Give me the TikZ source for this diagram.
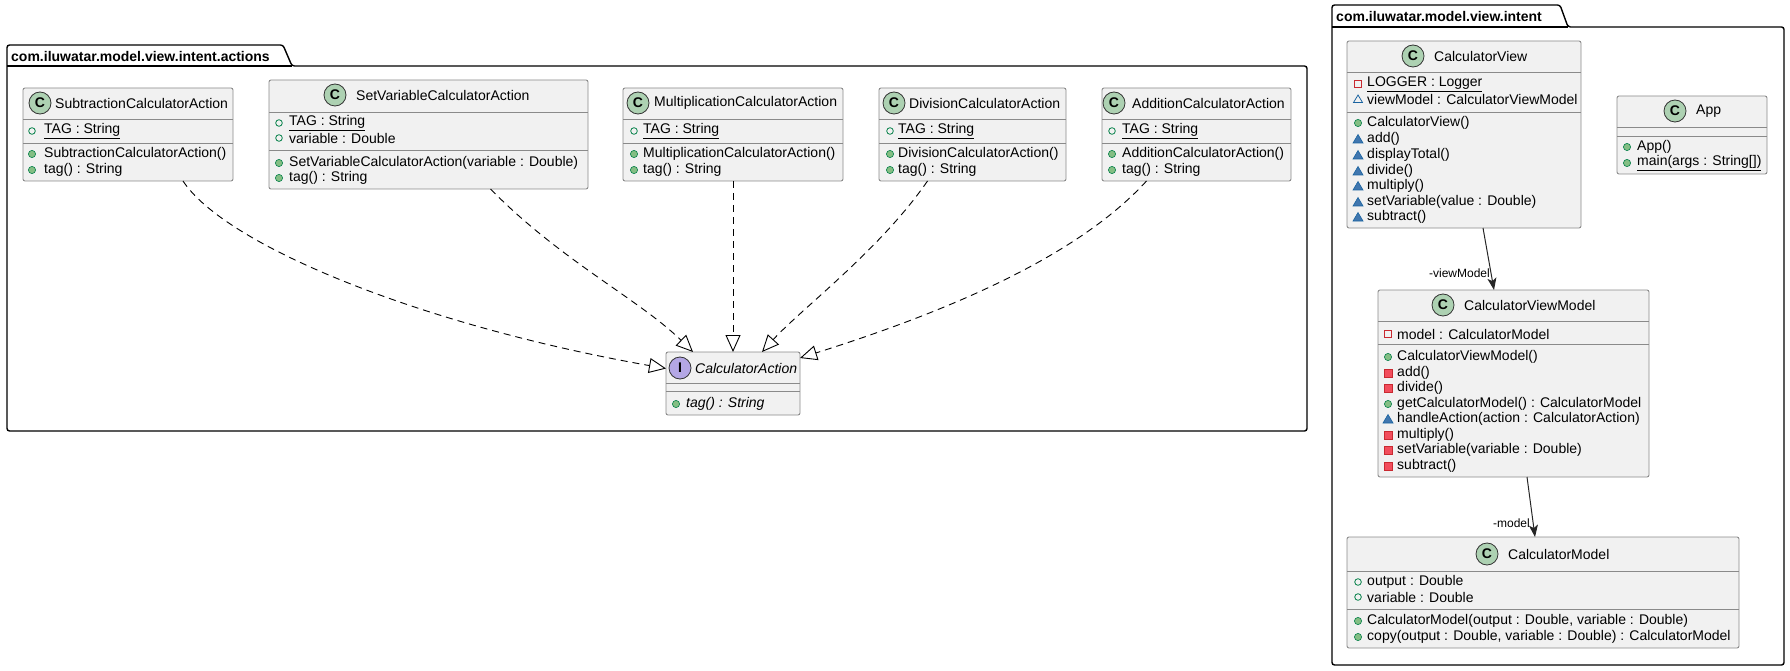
\documentclass[tikz,border=0pt]{standalone}
\usepackage{fontspec}
\setmainfont{Liberation Sans}
\usetikzlibrary{arrows.meta}

\definecolor{boxfill}{HTML}{F1F1F1}
\definecolor{boxline}{HTML}{8A8A8A}
\definecolor{clsgreen}{HTML}{ADD1B2}
\definecolor{ifcviolet}{HTML}{B4A7E5}
\definecolor{publine}{HTML}{038048}
\definecolor{pubfill}{HTML}{84BE84}
\definecolor{privline}{HTML}{C82930}
\definecolor{privfill}{HTML}{F24D5C}
\definecolor{pkgline}{HTML}{1963A0}
\definecolor{pkgfill}{HTML}{4177AF}

\tikzset{
  cls/.style={draw=boxline, fill=boxfill, line width=0.9pt, rounded corners=2pt, inner sep=0pt, outer sep=0pt},
  sepln/.style={draw=boxline, line width=0.9pt},
  pkgframe/.style={draw=black, line width=1.4pt, rounded corners=2.5pt},
  pkglabel/.style={anchor=west, inner sep=0pt, font=\fontsize{14}{16}\selectfont\bfseries},
  hicon/.style={circle, draw=black!80, fill=clsgreen, line width=0.8pt, minimum size=22pt, inner sep=0pt, font=\fontsize{14}{16}\selectfont\bfseries},
  htitle/.style={anchor=west, inner sep=0pt, font=\fontsize{14}{16}\selectfont},
  mem/.style={anchor=west, inner sep=0pt, font=\fontsize{14}{16}\selectfont},
  elabel/.style={anchor=east, inner sep=0pt, font=\fontsize{12}{14}\selectfont},
  realize/.style={draw=black, line width=0.9pt, dash pattern=on 7pt off 5pt, -{Triangle[open, length=17pt, width=15pt, line width=0.9pt]}},
  assoc/.style={draw=black!85, line width=1pt, -{Stealth[length=12pt, width=9pt, inset=3pt]}}
}

% class box: name, left, top, right, bottom, separator 1, separator 2
\newcommand\classbox[7]{%
  \node[cls, anchor=north west, minimum width=#4-#2, minimum height=#5-#3] (#1) at (#2,#3) {};
  \draw[sepln] (#2,#6) -- (#4,#6);
  \draw[sepln] (#2,#7) -- (#4,#7);}
% visibility marks
\newcommand\fpub[2]{\draw[publine, line width=0.8pt] (#1,#2) circle (3.3pt);}
\newcommand\mpub[2]{\filldraw[draw=publine, fill=pubfill, line width=0.6pt] (#1,#2) circle (3.6pt);}
\newcommand\fpriv[2]{\draw[privline, line width=0.8pt] (#1-3.5,#2-3.5) rectangle (#1+3.5,#2+3.5);}
\newcommand\mpriv[2]{\filldraw[draw=privline, fill=privfill, line width=0.6pt] (#1-3.8,#2-3.8) rectangle (#1+3.8,#2+3.8);}
\newcommand\fpkg[2]{\draw[pkgline, line width=0.8pt] (#1-4.5,#2+3.5) -- (#1+4.5,#2+3.5) -- (#1,#2-4) -- cycle;}
\newcommand\mpkg[2]{\filldraw[draw=pkgline, fill=pkgfill, line width=0.6pt] (#1-5,#2+4) -- (#1+5,#2+4) -- (#1,#2-4.5) -- cycle;}

\begin{document}
\begin{tikzpicture}[x=1pt, y=-1pt]
\useasboundingbox (0,0) rectangle (1790,671);

% package com.iluwatar.model.view.intent.actions
\draw[pkgframe] (7,431) -- (7,45) -- (283,45) -- (292,66) -- (1307,66) -- (1307,431) -- cycle;
\draw[line width=1.4pt] (7,66) -- (292,66);
\node[pkglabel] (pkgActions) at (11,56) {com.iluwatar.model.view.intent.actions};

% package com.iluwatar.model.view.intent
\draw[pkgframe] (1332,665) -- (1332,5) -- (1560,5) -- (1568,27) -- (1784,27) -- (1784,665) -- cycle;
\draw[line width=1.4pt] (1332,27) -- (1568,27);
\node[pkglabel] (pkgIntent) at (1336,16) {com.iluwatar.model.view.intent};

% SubtractionCalculatorAction
\classbox{subAct}{23}{88}{233}{181}{119}{143}
\node[hicon] (subIcon) at (40,103) {C};
\node[htitle] (subTitle) at (55,103) {SubtractionCalculatorAction};
\fpub{32}{131} \node[mem] (subF1) at (44,131) {\underline{TAG : String}};
\mpub{32}{154} \node[mem] (subM1) at (44,154) {SubtractionCalculatorAction()};
\mpub{32}{170} \node[mem] (subM2) at (44,170) {tag() : String};

% SetVariableCalculatorAction
\classbox{setAct}{269}{80}{588}{189}{112}{150}
\node[hicon] (setIcon) at (335,95) {C};
\node[htitle] (setTitle) at (356,95) {SetVariableCalculatorAction};
\fpub{279}{123} \node[mem] (setF1) at (289,123) {\underline{TAG : String}};
\fpub{279}{138} \node[mem] (setF2) at (289,138) {variable : Double};
\mpub{279}{163} \node[mem] (setM1) at (289,163) {SetVariableCalculatorAction(variable : Double)};
\mpub{279}{178} \node[mem] (setM2) at (289,178) {tag() : String};

% MultiplicationCalculatorAction
\classbox{mulAct}{623}{88}{843}{181}{119}{143}
\node[hicon] (mulIcon) at (638,103) {C};
\node[htitle] (mulTitle) at (654,103) {MultiplicationCalculatorAction};
\fpub{634}{131} \node[mem] (mulF1) at (643,131) {\underline{TAG : String}};
\mpub{634}{154} \node[mem] (mulM1) at (643,154) {MultiplicationCalculatorAction()};
\mpub{634}{170} \node[mem] (mulM2) at (643,170) {tag() : String};

% DivisionCalculatorAction
\classbox{divAct}{879}{88}{1066}{181}{119}{143}
\node[hicon] (divIcon) at (894,103) {C};
\node[htitle] (divTitle) at (909,103) {DivisionCalculatorAction};
\fpub{890}{131} \node[mem] (divF1) at (898,131) {\underline{TAG : String}};
\mpub{890}{154} \node[mem] (divM1) at (898,154) {DivisionCalculatorAction()};
\mpub{890}{170} \node[mem] (divM2) at (898,170) {tag() : String};

% AdditionCalculatorAction
\classbox{addAct}{1102}{88}{1291}{181}{119}{143}
\node[hicon] (addIcon) at (1114,103) {C};
\node[htitle] (addTitle) at (1132,103) {AdditionCalculatorAction};
\fpub{1112}{131} \node[mem] (addF1) at (1122,131) {\underline{TAG : String}};
\mpub{1112}{154} \node[mem] (addM1) at (1122,154) {AdditionCalculatorAction()};
\mpub{1112}{170} \node[mem] (addM2) at (1122,170) {tag() : String};

% CalculatorAction (interface)
\classbox{calcAction}{666}{352}{800}{415}{383}{391}
\node[hicon, fill=ifcviolet] (ifcIcon) at (680,368) {I};
\node[htitle] (ifcTitle) at (695,368) {\itshape CalculatorAction};
\mpub{676}{404} \node[mem] (ifcM1) at (686,404) {\itshape tag() : String};

% realizations
\draw[realize] ([xshift=55]subAct.south) .. controls (225,245) and (420,325) .. ([yshift=15]calcAction.west);
\draw[realize] ([xshift=62]setAct.south) .. controls (560,260) and (640,300) .. ([xshift=-40]calcAction.north);
\draw[realize] (mulAct.south) -- (calcAction.north);
\draw[realize] ([xshift=-45]divAct.south) .. controls (880,250) and (800,310) .. ([xshift=29]calcAction.north);
\draw[realize] ([xshift=-50]addAct.south) .. controls (1070,265) and (920,320) .. ([yshift=-6]calcAction.north east);

% CalculatorView
\classbox{calcView}{1347}{41}{1581}{228}{72}{112}
\node[hicon] (viewIcon) at (1413,56) {C};
\node[htitle] (viewTitle) at (1434,56) {CalculatorView};
\fpriv{1358}{84} \node[mem] (viewF1) at (1367,84) {\underline{LOGGER : Logger}};
\fpkg{1358}{99} \node[mem] (viewF2) at (1367,99) {viewModel : CalculatorViewModel};
\mpub{1358}{123} \node[mem] (viewM1) at (1367,123) {CalculatorView()};
\mpkg{1358}{139} \node[mem] (viewM2) at (1367,139) {add()};
\mpkg{1358}{155} \node[mem] (viewM3) at (1367,155) {displayTotal()};
\mpkg{1358}{171} \node[mem] (viewM4) at (1367,171) {divide()};
\mpkg{1358}{186} \node[mem] (viewM5) at (1367,186) {multiply()};
\mpkg{1358}{202} \node[mem] (viewM6) at (1367,202) {setVariable(value : Double)};
\mpkg{1358}{217} \node[mem] (viewM7) at (1367,217) {subtract()};

% App
\classbox{app}{1617}{96}{1767}{174}{127}{136}
\node[hicon] (appIcon) at (1675,111) {C};
\node[htitle] (appTitle) at (1696,111) {App};
\mpub{1627}{147} \node[mem] (appM1) at (1637,147) {App()};
\mpub{1627}{163} \node[mem] (appM2) at (1637,163) {\underline{main(args : String[])}};

% CalculatorViewModel
\classbox{calcViewModel}{1378}{290}{1649}{477}{321}{344}
\node[hicon] (vmIcon) at (1443,305) {C};
\node[htitle] (vmTitle) at (1464,305) {CalculatorViewModel};
\fpriv{1388}{334} \node[mem] (vmF1) at (1397,334) {model : CalculatorModel};
\mpub{1388}{357} \node[mem] (vmM1) at (1397,357) {CalculatorViewModel()};
\mpriv{1388}{373} \node[mem] (vmM2) at (1397,373) {add()};
\mpriv{1388}{388} \node[mem] (vmM3) at (1397,388) {divide()};
\mpub{1388}{404} \node[mem] (vmM4) at (1397,404) {getCalculatorModel() : CalculatorModel};
\mpkg{1388}{419} \node[mem] (vmM5) at (1397,419) {handleAction(action : CalculatorAction)};
\mpriv{1388}{435} \node[mem] (vmM6) at (1397,435) {multiply()};
\mpriv{1388}{450} \node[mem] (vmM7) at (1397,450) {setVariable(variable : Double)};
\mpriv{1388}{466} \node[mem] (vmM8) at (1397,466) {subtract()};

% CalculatorModel
\classbox{calcModel}{1347}{537}{1739}{648}{571}{609}
\node[hicon] (modelIcon) at (1487,554) {C};
\node[htitle] (modelTitle) at (1508,554) {CalculatorModel};
\fpub{1358}{582} \node[mem] (modelF1) at (1367,582) {output : Double};
\fpub{1358}{597} \node[mem] (modelF2) at (1367,597) {variable : Double};
\mpub{1358}{621} \node[mem] (modelM1) at (1367,621) {CalculatorModel(output : Double, variable : Double)};
\mpub{1358}{637} \node[mem] (modelM2) at (1367,637) {copy(output : Double, variable : Double) : CalculatorModel};

% associations
\draw[assoc] ([xshift=19]calcView.south) -- ([xshift=-19.5]calcViewModel.north);
\node[elabel] (lblViewModel) at (1490,273) {-viewModel};
\draw[assoc] ([xshift=13.5]calcViewModel.south) -- ([xshift=-8]calcModel.north);
\node[elabel] (lblModel) at (1530,523) {-model};

\end{tikzpicture}
\end{document}
